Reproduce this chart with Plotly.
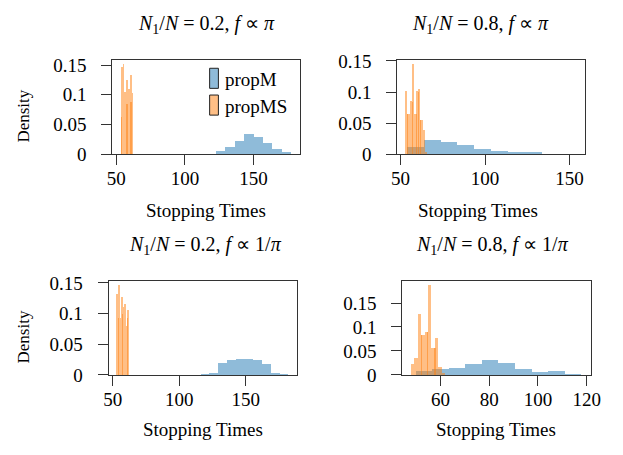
import plotly.graph_objects as go

# ---- propM: histogram bin edges and densities per setting ----
m_edges_02_pi = [109.1, 115.9, 122.8, 129.6, 136.4, 143.3, 150.1, 156.9, 163.7, 170.6, 177.4]
m_dens_02_pi = [0.001, 0.0015, 0.0055, 0.0125, 0.023, 0.035, 0.030, 0.0195, 0.009, 0.0045]

m_edges_08_pi = [53.9, 63.9, 73.9, 83.9, 93.9, 103.9, 113.9, 123.9, 133.9, 143.9, 153.9]
m_dens_08_pi = [0.0115, 0.0228, 0.0197, 0.015, 0.0088, 0.0057, 0.0042, 0.0042, 0.001, 0.001]

m_edges_02_inv = [115.7, 122.3, 128.9, 135.5, 142.1, 148.7, 155.3, 161.9, 168.5, 175.1, 181.7]
m_dens_02_inv = [0.0026, 0.0042, 0.0197, 0.0244, 0.0275, 0.0275, 0.0244, 0.018, 0.0042, 0.0026]

m_edges_08_inv = [49.9, 56.7, 63.5, 70.3, 77.1, 83.9, 90.7, 97.5, 104.3, 111.1, 117.9]
m_dens_08_inv = [0.0087, 0.0133, 0.0153, 0.0233, 0.0313, 0.0253, 0.0133, 0.0073, 0.0093, 0.0033]

# ---- propMS: histogram bin edges and densities per setting ----
ms_edges_02_pi = [53.5, 54.8, 56.1, 57.4, 58.7, 60.0, 61.3, 62.6]
ms_dens_02_pi = [0.147, 0.152, 0.106, 0.126, 0.111, 0.134, 0.104]

ms_edges_08_pi = [52.9, 54.2, 55.5, 56.8, 58.1, 59.4, 60.7, 62.0, 63.3, 64.6, 65.9]
ms_dens_08_pi = [0.102, 0.065, 0.0867, 0.1455, 0.065, 0.102, 0.105, 0.055, 0.040, 0.005]

ms_edges_02_inv = [52.4, 53.55, 54.7, 55.85, 57.0, 58.15, 59.3, 60.45, 61.6]
ms_dens_02_inv = [0.1335, 0.1475, 0.093, 0.128, 0.111, 0.1165, 0.081, 0.1066]

ms_edges_08_inv = [47.9, 49.31, 50.72, 52.13, 53.54, 54.95, 56.36, 57.77, 59.18, 60.59, 62.0]
ms_dens_08_inv = [0.0233, 0.0373, 0.129, 0.085, 0.091, 0.189, 0.057, 0.079, 0.017, 0.005]

# propMS bins that overlap their neighbours (left edge, right edge, density)
ms_lap_left_02_pi = [53.5, 57.4, 60.3]
ms_lap_right_02_pi = [54.6, 58.5, 61.4]
ms_lap_dens_02_pi = [0.063, 0.085, 0.089]

ms_lap_left_08_pi = [54.2, 57.0, 59.3, 60.7, 62.0]
ms_lap_right_08_pi = [54.8, 57.5, 59.8, 61.2, 62.5]
ms_lap_dens_08_pi = [0.065, 0.085, 0.065, 0.10, 0.055]

ms_lap_left_02_inv = [53.6, 56.8, 60.45]
ms_lap_right_02_inv = [54.5, 57.7, 61.4]
ms_lap_dens_02_inv = [0.093, 0.10, 0.093]

ms_lap_left_08_inv = [51.9, 54.4, 57.6]
ms_lap_right_08_inv = [52.4, 54.9, 58.1]
ms_lap_dens_08_inv = [0.085, 0.09, 0.057]

titles = [
    "<i>N</i><sub>1</sub>/<i>N</i> = 0.2, <i>f</i> ∝ <i>π</i>",
    "<i>N</i><sub>1</sub>/<i>N</i> = 0.8, <i>f</i> ∝ <i>π</i>",
    "<i>N</i><sub>1</sub>/<i>N</i> = 0.2, <i>f</i> ∝ 1/<i>π</i>",
    "<i>N</i><sub>1</sub>/<i>N</i> = 0.8, <i>f</i> ∝ 1/<i>π</i>",
]
x_label = "Stopping Times"
y_label = "Density"
legend_names = ["propM", "propMS"]

x_ticks = [[50, 100, 150], [50, 100, 150], [50, 100, 150], [60, 80, 100, 120]]
y_ticks = [0, 0.05, 0.1, 0.15]
y_tick_text = ["0", "0.05", "0.1", "0.15"]

BLUE = "rgba(31,119,180,0.5)"
ORANGE = "rgba(255,127,14,0.5)"
FONT = "Liberation Serif"
W, H = 623, 455


def font(size):
    return dict(family=FONT, size=size, color="black")


panels = [
    dict(m=(m_edges_02_pi, m_dens_02_pi), ms=(ms_edges_02_pi, ms_dens_02_pi),
         lap=(ms_lap_left_02_pi, ms_lap_right_02_pi, ms_lap_dens_02_pi),
         box=(109, 302, 53, 152), xr=[47, 184], yr=[0, 0.159]),
    dict(m=(m_edges_08_pi, m_dens_08_pi), ms=(ms_edges_08_pi, ms_dens_08_pi),
         lap=(ms_lap_left_08_pi, ms_lap_right_08_pi, ms_lap_dens_08_pi),
         box=(401.7, 594, 53, 152), xr=[48.1, 159], yr=[0, 0.152]),
    dict(m=(m_edges_02_inv, m_dens_02_inv), ms=(ms_edges_02_inv, ms_dens_02_inv),
         lap=(ms_lap_left_02_inv, ms_lap_right_02_inv, ms_lap_dens_02_inv),
         box=(105.3, 298.3, 284, 382.7), xr=[46.8, 188.3], yr=[0, 0.154]),
    dict(m=(m_edges_08_inv, m_dens_08_inv), ms=(ms_edges_08_inv, ms_dens_08_inv),
         lap=(ms_lap_left_08_inv, ms_lap_right_08_inv, ms_lap_dens_08_inv),
         box=(406.7, 600, 284, 382.7), xr=[44.3, 121.6], yr=[0, 0.197]),
]


def bars_from_edges(edges, dens, color, xa, ya):
    mids = [(a + b) / 2 for a, b in zip(edges[:-1], edges[1:])]
    widths = [b - a for a, b in zip(edges[:-1], edges[1:])]
    return go.Bar(x=mids, y=dens, width=widths, marker=dict(color=color, line=dict(width=0)),
                  xaxis=xa, yaxis=ya, showlegend=False, hoverinfo="skip")


def bars_from_bounds(lefts, rights, dens, color, xa, ya):
    mids = [(a + b) / 2 for a, b in zip(lefts, rights)]
    widths = [b - a for a, b in zip(lefts, rights)]
    return go.Bar(x=mids, y=dens, width=widths, marker=dict(color=color, line=dict(width=0)),
                  xaxis=xa, yaxis=ya, showlegend=False, hoverinfo="skip")


fig = go.Figure()
layout = dict(
    width=W, height=H, margin=dict(l=0, r=0, t=0, b=0),
    paper_bgcolor="white", plot_bgcolor="white",
    barmode="overlay", bargap=0, showlegend=False,
    font=font(19),
)

axis_common = dict(showline=True, mirror=True, linecolor="#333", linewidth=1,
                   ticks="outside", ticklen=10, tickwidth=1, tickcolor="#333",
                   showgrid=False, zeroline=False, tickfont=font(19))

annotations = []
title_centres = [206, 487, 205, 499]
label_centres = [205, 484, 202, 503]

for i, p in enumerate(panels):
    k = "" if i == 0 else str(i + 1)
    xa, ya = "x" + k, "y" + k
    x0, x1, y0, y1 = p["box"]
    fig.add_trace(bars_from_edges(*p["m"], BLUE, xa, ya))
    fig.add_trace(bars_from_edges(*p["ms"], ORANGE, xa, ya))
    fig.add_trace(bars_from_bounds(*p["lap"], ORANGE, xa, ya))
    layout["xaxis" + k] = dict(axis_common, domain=[x0 / W, x1 / W], range=p["xr"],
                               tickvals=x_ticks[i], anchor=ya, ticklabelstandoff=-3)
    layout["yaxis" + k] = dict(axis_common, domain=[1 - y1 / H, 1 - y0 / H], range=p["yr"],
                               tickvals=y_ticks, ticktext=y_tick_text, anchor=xa,
                               ticklabelstandoff=11)
    ty = 16 if i < 2 else 247
    annotations.append(dict(text=titles[i], x=title_centres[i] / W, y=1 - ty / H,
                            xref="paper", yref="paper", showarrow=False,
                            xanchor="center", yanchor="middle", font=font(20)))
    ly = 211 if i < 2 else 440
    annotations.append(dict(text=x_label, x=label_centres[i] / W, y=1 - ly / H,
                            xref="paper", yref="paper", showarrow=False,
                            xanchor="center", yanchor="middle", font=font(19)))

# y-axis labels on the left column
for cy in (112, 343):
    annotations.append(dict(text=y_label, x=18 / W, y=1 - cy / H, xref="paper", yref="paper",
                            showarrow=False, textangle=-90, xanchor="center", yanchor="middle",
                            font=font(17)))

# legend in the first panel
shapes = []
legend_rows = [(62, 83, BLUE, 74), (90, 111, ORANGE, 102)]
for (top, bot, col, cy), name in zip(legend_rows, legend_names):
    shapes.append(dict(type="rect", xref="paper", yref="paper",
                       x0=209 / W, x1=218 / W, y0=1 - bot / H, y1=1 - top / H,
                       fillcolor=col, line=dict(color="#222", width=1)))
    annotations.append(dict(text=name, x=223 / W, y=1 - cy / H, xref="paper", yref="paper",
                            showarrow=False, xanchor="left", yanchor="middle",
                            font=font(19)))

layout["annotations"] = annotations
layout["shapes"] = shapes
fig.update_layout(**layout)
fig.write_html("out.html")
